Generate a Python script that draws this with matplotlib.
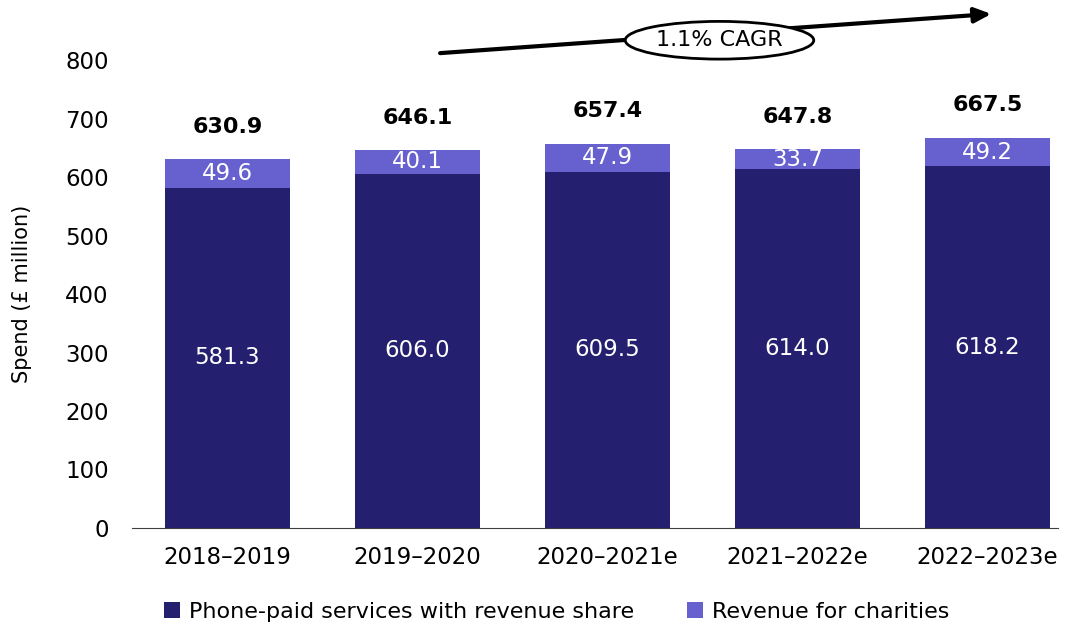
import matplotlib.pyplot as plt
import numpy as np

plt.rcParams['font.family'] = ['DejaVu Sans']

years = ["2018–2019", "2019–2020", "2020–2021e", "2021–2022e", "2022–2023e"]
phone_paid = [581.3, 606.0, 609.5, 614.0, 618.2]
charities = [49.6, 40.1, 47.9, 33.7, 49.2]
totals = [630.9, 646.1, 657.4, 647.8, 667.5]
cagr_label = "1.1% CAGR"

dark = "#241f6f"
light = "#6761d0"

fig = plt.figure(figsize=(10.75, 6.33), dpi=100)
ax = fig.add_axes([0.123, 0.166, 0.861, 0.739])

x = np.arange(len(years))
w = 0.66
ax.bar(x, phone_paid, w, color=dark, label="Phone-paid services with revenue share")
ax.bar(x, charities, w, bottom=phone_paid, color=light, label="Revenue for charities")

for i in range(len(years)):
    ax.text(x[i], phone_paid[i] / 2, f"{phone_paid[i]:.1f}", ha="center", va="center",
            color="white", fontsize=16.5)
    ax.text(x[i], phone_paid[i] + charities[i] / 2, f"{charities[i]:.1f}", ha="center",
            va="center", color="white", fontsize=16.5)
    ax.annotate(f"{totals[i]:.1f}", (x[i], totals[i]), xytext=(0, 16),
                textcoords="offset points", ha="center", va="bottom",
                fontsize=16, fontweight="bold", annotation_clip=False)

# growth arrow with the ellipse label
ax.annotate("", xy=(4.02, 879), xytext=(1.12, 812),
            arrowprops=dict(arrowstyle="-|>,head_length=1.0,head_width=0.45",
                            lw=3, color="black", shrinkA=0, shrinkB=0),
            annotation_clip=False)
ax.text(2.59, 834, cagr_label, ha="center", va="center", fontsize=16, clip_on=False,
        bbox=dict(boxstyle="ellipse,pad=0.15", fc="white", ec="black", lw=2))

ax.set_xlim(-0.5, 4.37)
ax.set_ylim(0, 800)
ax.set_yticks(range(0, 801, 100))
ax.set_xticks(x)
ax.set_xticklabels(years)
ax.tick_params(axis="both", length=0, labelsize=16.5)
ax.tick_params(axis="y", pad=17)
ax.tick_params(axis="x", pad=13)
ax.set_ylabel("Spend (£ million)", fontsize=15, labelpad=24)
for s in ["top", "right", "left"]:
    ax.spines[s].set_visible(False)
ax.spines["bottom"].set_color("#404040")

ax.legend(loc="upper center", bbox_to_anchor=(0.4585, -0.115), ncol=2, frameon=False,
          fontsize=16, handlelength=0.7, handleheight=0.7, handletextpad=0.4,
          columnspacing=2.4)

fig.savefig("out.png", dpi=100)
